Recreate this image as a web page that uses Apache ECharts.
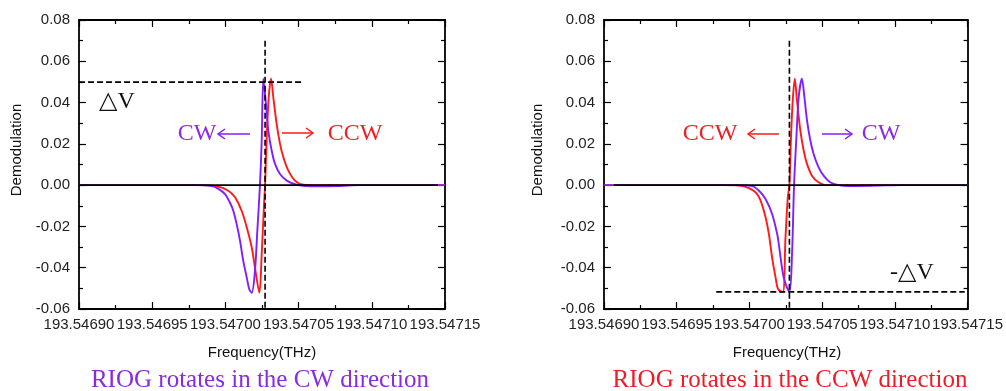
<!DOCTYPE html>
<html>
<head>
<meta charset="utf-8">
<script src="https://cdn.jsdelivr.net/npm/echarts@6/dist/echarts.min.js"></script>
<style>
html,body{margin:0;padding:0;background:#fff;}
#main{width:1006px;height:391px;}
</style>
</head>
<body>
<div id="main"></div>
<script>
// ---------- Data (frequency in THz, demodulation signal) ----------
// Left panel: RIOG rotates in the CW direction
const leftCwFreq = [193.5469000, 193.5469792, 193.5469906, 193.5469952, 193.5469997, 193.5470031, 193.5470054, 193.5470077, 193.5470100, 193.5470122, 193.5470146, 193.5470163, 193.5470180, 193.5470202, 193.5470218, 193.5470236, 193.5470248, 193.5470259, 193.5470277, 193.5470293, 193.5470316, 193.5470339, 193.5470373, 193.5470419, 193.5470487, 193.5470578, 193.5470783, 193.5470913, 193.5471500];
const leftCwVal  = [0, 0, -0.0005, -0.0018, -0.0043, -0.0084, -0.0124, -0.0189, -0.0270, -0.0367, -0.0448, -0.0504, -0.0522, -0.0416, -0.0221, 0, 0.0216, 0.0516, 0.0395, 0.0265, 0.0168, 0.0103, 0.0054, 0.0022, 0.0002, -0.0005, -0.0004, 0, 0];

const leftCcwFreq = [193.5469000, 193.5469827, 193.5469952, 193.5470020, 193.5470066, 193.5470111, 193.5470146, 193.5470180, 193.5470202, 193.5470232, 193.5470248, 193.5470264, 193.5470271, 193.5470282, 193.5470296, 193.5470312, 193.5470327, 193.5470350, 193.5470373, 193.5470396, 193.5470430, 193.5470475, 193.5470532, 193.5470639, 193.5471500];
const leftCcwVal  = [0, 0, -0.0007, -0.0027, -0.0059, -0.0124, -0.0205, -0.0302, -0.0400, -0.0521, -0.0333, -0.0090, 0, 0.0232, 0.0427, 0.0516, 0.0427, 0.0297, 0.0200, 0.0135, 0.0070, 0.0022, 0.0002, 0, 0];

// Right panel: RIOG rotates in the CCW direction
const rightCwFreq = [193.5469000, 193.5469888, 193.5470020, 193.5470066, 193.5470111, 193.5470156, 193.5470191, 193.5470202, 193.5470236, 193.5470275, 193.5470293, 193.5470307, 193.5470323, 193.5470339, 193.5470361, 193.5470378, 193.5470396, 193.5470419, 193.5470441, 193.5470475, 193.5470510, 193.5470555, 193.5470612, 193.5470680, 193.5470885, 193.5471049, 193.5471500];
const rightCwVal  = [0, 0, -0.0005, -0.0027, -0.0067, -0.0140, -0.0237, -0.0286, -0.0448, -0.0518, -0.0335, 0, 0.0232, 0.0427, 0.0516, 0.0427, 0.0314, 0.0216, 0.0152, 0.0087, 0.0046, 0.0014, 0, -0.0004, -0.0002, 0, 0];

const rightCcwFreq = [193.5469000, 193.5469820, 193.5469929, 193.5469997, 193.5470043, 193.5470077, 193.5470111, 193.5470134, 193.5470156, 193.5470180, 193.5470197, 193.5470230, 193.5470248, 193.5470264, 193.5470275, 193.5470286, 193.5470298, 193.5470312, 193.5470327, 193.5470350, 193.5470373, 193.5470396, 193.5470430, 193.5470475, 193.5470532, 193.5471500];
const rightCcwVal  = [0, 0, -0.0002, -0.0014, -0.0035, -0.0075, -0.0156, -0.0237, -0.0351, -0.0448, -0.0503, -0.0518, -0.0254, -0.0059, 0, 0.0232, 0.0411, 0.0516, 0.0411, 0.0265, 0.0168, 0.0103, 0.0046, 0.0014, 0, 0];

// Reference lines
const leftZeroFreq  = [193.5469000, 193.5471452];
const rightZeroFreq = [193.5469068, 193.5471500];
const zeroVal = [0, 0];
const leftVFreq  = [193.5470271, 193.5470271];
const rightVFreq = [193.5470275, 193.5470275];
const vLineVal = [0.07, -0.06];
const leftHFreq  = [193.5468816, 193.5470523];
const leftHVal   = [0.0499, 0.0499];
const rightHFreq = [193.5469772, 193.5471480];
const rightHVal  = [-0.0517, -0.0517];

// Axis ticks
const xMin = 193.5469, xMax = 193.54715, xStep = 0.00005;
const yMin = -0.06, yMax = 0.08, yStep = 0.02;

const PURPLE = '#7f1fff';
const RED = '#ff1a1a';
const PURPLE_TXT = '#8a2be2';
const RED_TXT = '#ee1c25';

function zip(a, b) { return a.map((v, i) => [v, b[i]]); }

const labelFont = { fontFamily: 'Liberation Sans, Arial, sans-serif', fontSize: 15, color: '#222' };

function xAxes(gridIndex) {
  const base = {
    type: 'value', gridIndex, min: xMin, max: xMax, interval: xStep,
    axisLine: { show: true, onZero: false, lineStyle: { color: '#000', width: 1.8 } },
    axisTick: { show: true, inside: true, length: 7, lineStyle: { color: '#000', width: 1.2 } },
    minorTick: { show: true, splitNumber: 2, length: 4, lineStyle: { color: '#000', width: 1.2 } },
    splitLine: { show: false }, minorSplitLine: { show: false }
  };
  return [
    Object.assign({}, base, { position: 'bottom',
      axisLabel: Object.assign({ show: true, margin: 8, showMinLabel: true, showMaxLabel: true,
        formatter: v => v.toFixed(5) }, labelFont) }),
    Object.assign({}, base, { position: 'top', axisLabel: { show: false } })
  ];
}
function yAxes(gridIndex) {
  const base = {
    type: 'value', gridIndex, min: yMin, max: yMax, interval: yStep,
    axisLine: { show: true, onZero: false, lineStyle: { color: '#000', width: 1.8 } },
    axisTick: { show: true, inside: true, length: 7, lineStyle: { color: '#000', width: 1.2 } },
    minorTick: { show: true, splitNumber: 2, length: 4, lineStyle: { color: '#000', width: 1.2 } },
    splitLine: { show: false }, minorSplitLine: { show: false }
  };
  return [
    Object.assign({}, base, { position: 'left',
      axisLabel: Object.assign({ show: true, margin: 9, showMinLabel: true, showMaxLabel: true,
        formatter: v => v.toFixed(2) }, labelFont) }),
    Object.assign({}, base, { position: 'right', axisLabel: { show: false } })
  ];
}

function curve(xi, yi, f, v, color) {
  return { type: 'line', xAxisIndex: xi, yAxisIndex: yi, data: zip(f, v), symbol: 'none',
    smooth: 0.3, lineStyle: { color, width: 1.9 }, z: 3 };
}
function ref(xi, yi, f, v, dashed, clip) {
  return { type: 'line', xAxisIndex: xi, yAxisIndex: yi, data: zip(f, v), symbol: 'none',
    clip: clip, lineStyle: { color: '#000', width: dashed ? 1.6 : 1.8, type: dashed ? [6, 3] : 'solid' }, z: 4 };
}

const chart = echarts.init(document.getElementById('main'), null, { renderer: 'canvas' });

const serif = '"Liberation Serif", "Times New Roman", "DejaVu Serif", serif';
function txt(x, y, text, color, size, font, rot) {
  return { type: 'text', x, y, rotation: rot || 0,
    style: { text, fill: color, font: size + 'px ' + font, align: 'center', verticalAlign: 'middle' } };
}
function arrow(x1, x2, y, color) {
  const dir = x2 > x1 ? 1 : -1;
  return [
    { type: 'line', shape: { x1, y1: y, x2, y2: y }, style: { stroke: color, lineWidth: 1.5 } },
    { type: 'polyline', shape: { points: [[x2 - dir * 7, y - 5], [x2, y], [x2 - dir * 7, y + 5]] },
      style: { stroke: color, fill: null, lineWidth: 1.5 } }
  ];
}
const sans = 'Liberation Sans, Arial, sans-serif';

chart.setOption({
  animation: false,
  backgroundColor: '#fff',
  grid: [
    { left: 79, top: 20, width: 366, height: 289 },
    { left: 604, top: 20, width: 366, height: 289 }
  ],
  xAxis: xAxes(0).concat(xAxes(1)),
  yAxis: yAxes(0).concat(yAxes(1)),
  series: [
    curve(0, 0, leftCcwFreq, leftCcwVal, RED),
    curve(0, 0, leftCwFreq, leftCwVal, PURPLE),
    ref(0, 0, leftZeroFreq, zeroVal, false, true),
    ref(0, 0, leftVFreq, vLineVal, true, false),
    ref(0, 0, leftHFreq, leftHVal, true, false),
    curve(2, 2, rightCcwFreq, rightCcwVal, RED),
    curve(2, 2, rightCwFreq, rightCwVal, PURPLE),
    ref(2, 2, rightZeroFreq, zeroVal, false, true),
    ref(2, 2, rightVFreq, vLineVal, true, false),
    ref(2, 2, rightHFreq, rightHVal, true, false)
  ],
  graphic: [
    txt(17, 150, 'Demodulation', '#111', 15, sans, Math.PI / 2),
    txt(538, 150, 'Demodulation', '#111', 15, sans, Math.PI / 2),
    txt(262, 353, 'Frequency(THz)', '#111', 15, sans),
    txt(787, 353, 'Frequency(THz)', '#111', 15, sans),
    txt(260, 380, 'RIOG rotates in the CW direction', PURPLE_TXT, 25, serif),
    txt(790, 380, 'RIOG rotates in the CCW direction', RED_TXT, 25, serif),
    txt(117, 102, '△V', '#111', 24, serif),
    txt(197, 134, 'CW', PURPLE_TXT, 24, serif),
    txt(355, 134, 'CCW', RED_TXT, 24, serif),
    txt(710, 134, 'CCW', RED_TXT, 24, serif),
    txt(881, 134, 'CW', PURPLE_TXT, 24, serif),
    txt(912, 273, '-△V', '#111', 24, serif)
  ].concat(arrow(250, 218, 134, PURPLE), arrow(282, 313, 133, RED),
           arrow(779, 748, 134, RED), arrow(822, 852, 134, PURPLE))
});
</script>
</body>
</html>
